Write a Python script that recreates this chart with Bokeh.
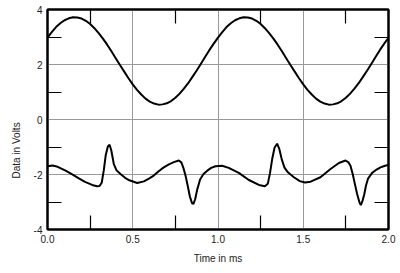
from bokeh.plotting import figure
from bokeh.models import Range1d, FixedTicker, LinearAxis, Title
from bokeh.embed import file_html
from bokeh.resources import INLINE

# ---- data ----
t_upper = [round(i * 0.025, 3) for i in range(81)]
v_upper = [2.98, 3.18, 3.36, 3.50, 3.61, 3.68, 3.72, 3.71, 3.67, 3.59,
           3.47, 3.32, 3.14, 2.94, 2.72, 2.48, 2.23, 1.98, 1.74, 1.50,
           1.28, 1.08, 0.91, 0.76, 0.65, 0.58, 0.54, 0.55, 0.59, 0.67,
           0.79, 0.94, 1.12, 1.32, 1.55, 1.78, 2.03, 2.28, 2.53, 2.76,
           2.98, 3.18, 3.36, 3.50, 3.61, 3.68, 3.72, 3.71, 3.67, 3.59,
           3.47, 3.32, 3.14, 2.94, 2.72, 2.48, 2.23, 1.98, 1.74, 1.50,
           1.28, 1.08, 0.91, 0.76, 0.65, 0.58, 0.54, 0.55, 0.59, 0.67,
           0.79, 0.94, 1.12, 1.32, 1.55, 1.78, 2.03, 2.28, 2.53, 2.76,
           2.97]

t_lower = [0.000, 0.030, 0.060, 0.106, 0.150, 0.184, 0.220, 0.262, 0.290, 0.305,
           0.318, 0.330, 0.342, 0.354, 0.364, 0.374, 0.389, 0.405, 0.428, 0.455,
           0.480, 0.526, 0.565, 0.595, 0.623, 0.652, 0.682, 0.712, 0.741, 0.770,
           0.785, 0.798, 0.810, 0.822, 0.835, 0.848, 0.856, 0.866, 0.878, 0.895,
           0.915, 0.937, 0.960, 0.985, 1.024, 1.063, 1.122, 1.181, 1.240, 1.275,
           1.292, 1.305, 1.318, 1.332, 1.347, 1.360, 1.374, 1.390, 1.410, 1.445,
           1.480, 1.510, 1.543, 1.601, 1.660, 1.709, 1.748, 1.765, 1.777, 1.790,
           1.803, 1.816, 1.830, 1.838, 1.848, 1.858, 1.868, 1.880, 1.904, 1.930,
           1.953, 1.980, 2.000]
v_lower = [-1.70, -1.67, -1.72, -1.86, -2.01, -2.14, -2.27, -2.38, -2.43, -2.42,
           -2.30, -1.85, -1.28, -0.98, -0.92, -1.12, -1.62, -1.85, -1.98, -2.12,
           -2.21, -2.31, -2.25, -2.15, -2.04, -1.88, -1.74, -1.63, -1.55, -1.49,
           -1.56, -1.78, -2.05, -2.40, -2.80, -3.05, -3.07, -2.90, -2.55, -2.18,
           -1.98, -1.86, -1.76, -1.70, -1.68, -1.76, -1.94, -2.20, -2.38, -2.43,
           -2.34, -1.95, -1.43, -1.02, -0.88, -1.08, -1.45, -1.75, -1.92, -2.10,
           -2.24, -2.29, -2.26, -2.10, -1.80, -1.58, -1.49, -1.56, -1.68, -1.98,
           -2.35, -2.71, -3.02, -3.11, -2.95, -2.72, -2.40, -2.15, -1.94, -1.82,
           -1.74, -1.68, -1.65]

x_major = [0.0, 0.5, 1.0, 1.5, 2.0]
x_minor = [0.25, 0.75, 1.25, 1.75]
x_labels = ["0.0", "0.5", "1.0", "1.5", "2.0"]
y_major = [-4, -2, 0, 2, 4]
y_minor = [-3, -1, 1, 3]
y_labels = ["-4", "-2", "0", "2", "4"]

FONT = "Liberation Sans"

p = figure(width=400, height=273, output_backend="svg", toolbar_location=None,
           x_range=Range1d(0, 2), y_range=Range1d(-4, 4),
           min_border_left=47, min_border_right=12, min_border_top=9,
           min_border_bottom=44, x_axis_label="Time in ms")
p.background_fill_color = "white"
p.border_fill_color = "white"
p.outline_line_color = "black"
p.outline_line_width = 2


def style_axis(ax, major, minor, labels):
    ax.ticker = FixedTicker(ticks=major, minor_ticks=minor)
    ax.major_tick_in = 0
    ax.major_tick_out = 0
    ax.minor_tick_in = 14
    ax.minor_tick_out = 0
    ax.minor_tick_line_color = "black"
    ax.minor_tick_line_width = 1.2
    ax.axis_line_color = "black"
    ax.axis_line_width = 2
    if labels is not None:
        ax.major_label_overrides = {v: s for v, s in zip(major, labels)}
        ax.major_label_text_font = FONT
        ax.major_label_text_font_size = "10px"
        ax.major_label_text_color = "#222222"
        ax.major_label_standoff = 5


style_axis(p.xaxis[0], x_major, x_minor, x_labels)
style_axis(p.yaxis[0], y_major, y_minor, y_labels)
p.xaxis[0].axis_label_text_font = FONT
p.xaxis[0].axis_label_text_font_size = "10px"
p.xaxis[0].axis_label_text_font_style = "normal"
p.xaxis[0].axis_label_text_color = "#222222"
p.xaxis[0].axis_label_standoff = 7

# top and right frame edges: only the short inward minor ticks, no labels
top_ax = LinearAxis()
style_axis(top_ax, [], x_minor, None)
p.add_layout(top_ax, "above")
right_ax = LinearAxis()
style_axis(right_ax, [], y_minor, None)
p.add_layout(right_ax, "right")

p.xgrid.ticker = FixedTicker(ticks=x_major)
p.ygrid.ticker = FixedTicker(ticks=y_major)
p.xgrid.grid_line_color = "#999999"
p.ygrid.grid_line_color = "#999999"
p.xgrid.grid_line_width = 1
p.ygrid.grid_line_width = 1

p.line(t_upper, v_upper, line_color="black", line_width=2)
p.line(t_lower, v_lower, line_color="black", line_width=2)

ytitle = Title(text="Data in Volts", align="left", offset=51, standoff=13,
               vertical_align="top",
               text_font=FONT, text_font_size="10px", text_font_style="normal",
               text_color="#222222")
p.add_layout(ytitle, "left")

open("out.html", "w").write(file_html(p, INLINE))
